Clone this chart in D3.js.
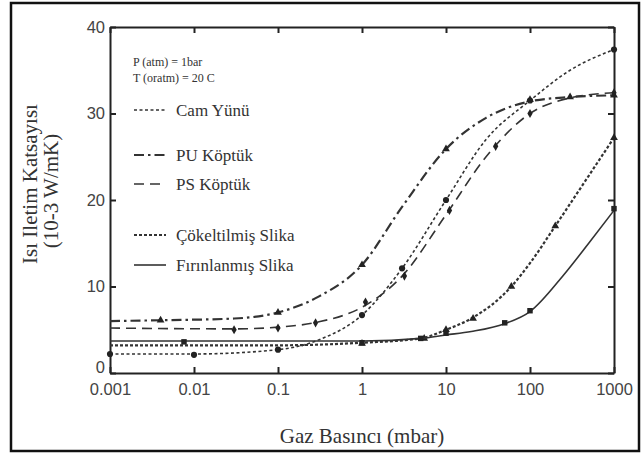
<!DOCTYPE html>
<html>
<head>
<meta charset="utf-8">
<script src="https://cdn.jsdelivr.net/npm/d3@7"></script>
<style>
  body { margin: 0; background: #fff; }
  .axis text { font-family: "Liberation Sans", Arial, sans-serif; font-size: 16.5px; fill: #444; }
  .axis path, .axis line { stroke: #222; stroke-width: 2; }
</style>
</head>
<body>
<div id="chart"></div>
<script>
// x ticks (gas pressure, mbar) and y ticks
var decades = [0.001, 0.01, 0.1, 1, 10, 100, 1000];
var decadeLabels = ["0.001", "0.01", "0.1", "1", "10", "100", "1000"];
var yTicks = [0, 10, 20, 30, 40];

var seriesNames = ["Cam Yünü", "PU Köptük", "PS Köptük", "Çökeltilmiş Slika", "Fırınlanmış Slika"];

// fitted curves [pressure, conductivity]
var camCurve = [[0.001, 2.2], [0.01, 2.2], [0.1, 2.7], [0.3, 3.8], [1, 6.7], [3, 12.1], [10, 20], [30, 27], [100, 31.5], [300, 35], [1000, 37.4]];
var puCurve = [[0.001, 6.0], [0.004, 6.1], [0.03, 6.3], [0.1, 7.0], [0.3, 8.8], [1, 12.5], [3, 19.2], [10, 25.9], [30, 29.5], [100, 31.4], [300, 31.9], [1000, 32.1]];
var psCurve = [[0.001, 5.2], [0.03, 5.1], [0.1, 5.3], [0.3, 5.9], [1, 7.6], [3, 11.2], [10, 18.3], [30, 25], [100, 30], [300, 31.8], [1000, 32.4]];
var cokCurve = [[0.001, 3.2], [0.01, 3.2], [0.1, 3.2], [1, 3.5], [5, 4.0], [10, 5.0], [20, 6.3], [60, 10], [100, 12.7], [200, 17], [500, 22.8], [1000, 27.2]];
var firCurve = [[0.001, 3.7], [0.01, 3.7], [0.1, 3.7], [1, 3.7], [5, 4.0], [10, 4.4], [20, 4.8], [50, 5.7], [100, 7.1], [250, 11.3], [500, 15], [1000, 18.8]];

// measured points (markers)
var camPts = [[0.001, 2.2], [0.01, 2.1], [0.1, 2.7], [1, 6.7], [3, 12.1], [10, 20], [100, 31.5], [1000, 37.4]];
var puPts = [[0.004, 6.1], [0.1, 7.0], [1, 12.5], [10, 25.9], [100, 31.6], [300, 31.9], [1000, 32.1]];
var psPts = [[0.03, 5.0], [0.1, 5.2], [0.28, 5.8], [1.1, 8.2], [3.2, 11.2], [11, 18.8], [39, 26.2], [100, 30], [1000, 32.4]];
var cokPts = [[1, 3.4], [5.5, 4.0], [10, 5.0], [21, 6.3], [60, 10], [200, 17], [1000, 27.2]];
var firPts = [[0.0076, 3.6], [1, 3.5], [5, 4.0], [10, 4.6], [50, 5.8], [100, 7.2], [1000, 19]];

var serif = "'Liberation Serif', 'DejaVu Serif', 'Times New Roman', serif";

var W = 644, H = 455,
    margin = { top: 27, right: 30, bottom: 82, left: 110 },
    width = W - margin.left - margin.right,
    height = H - margin.top - margin.bottom;

var svg = d3.select("#chart").append("svg")
    .attr("width", W)
    .attr("height", H)

// outer frame
svg.append("rect")
    .attr("x", 11).attr("y", 3)
    .attr("width", 628).attr("height", 448)
    .attr("fill", "none")
    .attr("stroke", "#111")
    .attr("stroke-width", 2.5)

var g = svg.append("g")
    .attr("transform", "translate(" + margin.left + "," + margin.top + ")")

var xScale = d3.scaleLog()
    .domain([0.001, 1000])
    .range([0, width])

var yScale = d3.scaleLinear()
    .domain([0, 40])
    .range([height, 0])

g.append("g")
    .attr("class", "axis")
    .attr("transform", "translate(0," + height + ")")
    .call(d3.axisBottom(xScale)
        .tickValues(decades)
        .tickSizeInner(-6)
        .tickSizeOuter(0)
        .tickPadding(10)
        .tickFormat(function (d, i) { return decadeLabels[i]; }))

g.append("g")
    .attr("class", "axis")
    .call(d3.axisTop(xScale)
        .tickValues(decades)
        .tickSizeInner(-6)
        .tickSizeOuter(0)
        .tickFormat(""))

var yAxis = g.append("g")
    .attr("class", "axis")
    .call(d3.axisLeft(yScale)
        .tickValues(yTicks)
        .tickSizeInner(-6)
        .tickSizeOuter(0)
        .tickPadding(5)
        .tickFormat(d3.format("d")))

// lift the zero a little so it clears 0.001
yAxis.selectAll(".tick text").attr("dy", function (d) { return d === 0 ? "-0.05em" : "0.32em"; })

g.append("g")
    .attr("class", "axis")
    .attr("transform", "translate(" + width + ",0)")
    .call(d3.axisRight(yScale)
        .tickValues(yTicks)
        .tickSizeInner(-6)
        .tickSizeOuter(0)
        .tickFormat(""))

var line = d3.line()
    .x(function (d) { return xScale(d[0]); })
    .y(function (d) { return yScale(d[1]); })
    .curve(d3.curveMonotoneX)

var series = [
    { name: seriesNames[0], curve: camCurve, pts: camPts, dash: "3,2.5", sw: 1.6, marker: d3.symbolCircle, size: 30 },
    { name: seriesNames[1], curve: puCurve, pts: puPts, dash: "10,4,2.5,4", sw: 2.2, marker: d3.symbolTriangle, size: 26 },
    { name: seriesNames[2], curve: psCurve, pts: psPts, dash: "10,6", sw: 1.6, marker: d3.symbolDiamond, size: 24 },
    { name: seriesNames[3], curve: cokCurve, pts: cokPts, dash: "3,2", sw: 2.2, marker: d3.symbolTriangle, size: 26 },
    { name: seriesNames[4], curve: firCurve, pts: firPts, dash: null, sw: 1.6, marker: d3.symbolSquare, size: 30 }
];

series.forEach(function (s) {
    g.append("path")
        .datum(s.curve)
        .attr("d", line)
        .attr("fill", "none")
        .attr("stroke", "#333")
        .attr("stroke-width", s.sw)
        .attr("stroke-dasharray", s.dash)

    g.selectAll(null)
        .data(s.pts)
        .enter().append("path")
        .attr("d", d3.symbol().type(s.marker).size(s.size))
        .attr("transform", function (d) { return "translate(" + xScale(d[0]) + "," + yScale(d[1]) + ")"; })
        .attr("fill", "#222")
})

function serifText(x, y, size, txt) {
    return svg.append("text")
        .attr("x", x).attr("y", y)
        .style("font-family", serif)
        .style("font-size", size + "px")
        .style("fill", "#333")
        .text(txt)
}

// annotation + legend
serifText(133, 66, 12, "P (atm) = 1bar")
serifText(133, 82, 12, "T (oratm) = 20 C")

var legendY = [110, 155, 184, 235, 265];

series.forEach(function (s, i) {
    svg.append("line")
        .attr("x1", 134).attr("x2", 166)
        .attr("y1", legendY[i]).attr("y2", legendY[i])
        .attr("stroke", "#333")
        .attr("stroke-width", s.sw)
        .attr("stroke-dasharray", s.dash)
    serifText(176, legendY[i], 17, s.name).attr("dy", "0.35em")
})

// axis titles
serifText(0, 0, 21, "Isı Iletim Katsayısı")
    .attr("transform", "translate(37,184) rotate(-90)")
    .attr("text-anchor", "middle")
serifText(0, 0, 21, "(10-3 W/mK)")
    .attr("transform", "translate(58,191) rotate(-90)")
    .attr("text-anchor", "middle")

serifText(362, 443, 21, "Gaz Basıncı (mbar)")
    .attr("text-anchor", "middle")
</script>
</body>
</html>
